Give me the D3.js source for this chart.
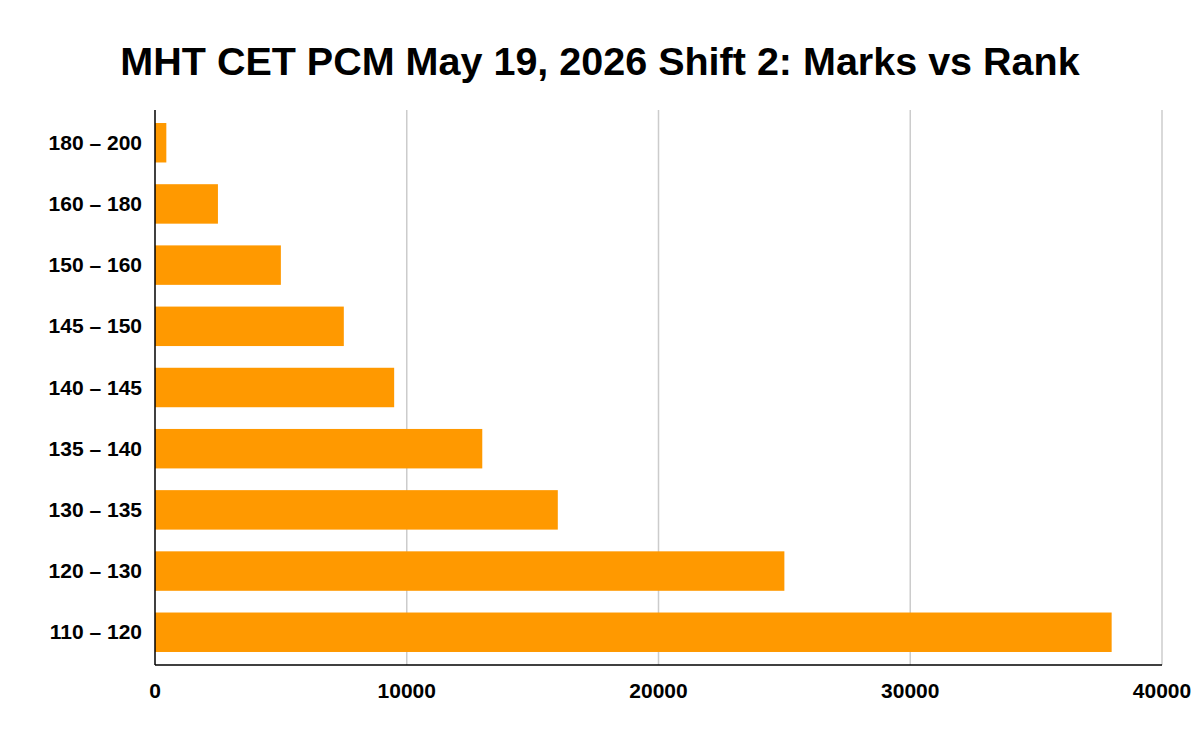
<!DOCTYPE html>
<html><head><meta charset="utf-8">
<script src="https://cdn.jsdelivr.net/npm/d3@7"></script>
<style>body{margin:0;background:#fff}text{font-family:"Liberation Sans",Arial,sans-serif}</style>
</head><body>
<svg id="chart" width="1200" height="742"></svg>
<script>
var categories = ['180 – 200','160 – 180','150 – 160','145 – 150','140 – 145','135 – 140','130 – 135','120 – 130','110 – 120'];
var ranks = [450, 2500, 5000, 7500, 9500, 13000, 16000, 25000, 38000];
var ticks = [0, 10000, 20000, 30000, 40000];

var svg = d3.select('#chart');
var plotLeft = 155, plotRight = 1162, plotTop = 110, plotBottom = 665;

var x = d3.scaleLinear().domain([0, 40000]).range([plotLeft, plotRight]);
var y = d3.scaleBand().domain(categories).range([plotTop + 2, plotBottom - 2]).paddingInner(0.355).paddingOuter(0.18);

svg.append('text').attr('x', 600).attr('y', 75).attr('text-anchor', 'middle')
	.attr('font-size', 39.5).attr('font-weight', 'bold').text('MHT CET PCM May 19, 2026 Shift 2: Marks vs Rank');

// grid
svg.selectAll('.grid').data(ticks.slice(1)).enter().append('line')
	.attr('x1', d => x(d)).attr('x2', d => x(d)).attr('y1', plotTop).attr('y2', plotBottom)
	.attr('stroke', '#cccccc').attr('stroke-width', 1.5);

svg.selectAll('.bar').data(ranks).enter().append('rect')
	.attr('x', x(0)).attr('y', (d, i) => y(categories[i]))
	.attr('width', d => x(d) - x(0)).attr('height', y.bandwidth())
	.attr('fill', '#ff9900');

svg.append('line').attr('x1', plotLeft).attr('x2', plotLeft).attr('y1', plotTop).attr('y2', plotBottom).attr('stroke', '#000').attr('stroke-width', 1.5);
svg.append('line').attr('x1', plotLeft).attr('x2', plotRight).attr('y1', plotBottom).attr('y2', plotBottom).attr('stroke', '#000').attr('stroke-width', 1.5);

svg.selectAll('.ylab').data(categories).enter().append('text')
	.attr('x', plotLeft - 13).attr('y', d => y(d) + y.bandwidth() / 2 + 7)
	.attr('text-anchor', 'end').attr('font-size', 21).attr('font-weight', 'bold').text(d => d);

svg.selectAll('.xlab').data(ticks).enter().append('text')
	.attr('x', d => x(d)).attr('y', plotBottom + 33)
	.attr('text-anchor', 'middle').attr('font-size', 21).attr('font-weight', 'bold').text(d => d);
</script>
</body></html>
